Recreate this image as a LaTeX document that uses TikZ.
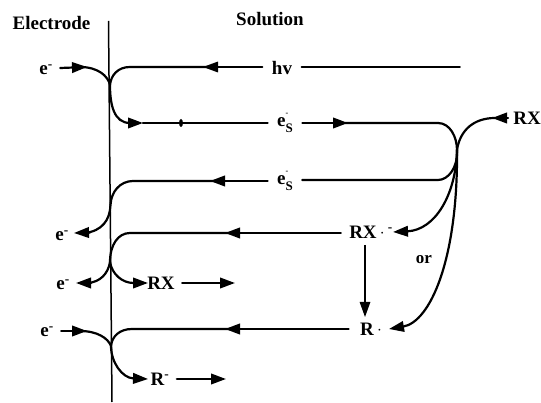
\documentclass[tikz,border=0pt]{standalone}
\usepackage{fontspec}
\setmainfont{Liberation Serif}
\usetikzlibrary{arrows.meta}
\newcommand{\esol}{e\rlap{\raisebox{11pt}{\fontsize{8}{8}\selectfont -}}\raisebox{-6pt}{\fontsize{13}{13}\selectfont S}}
\newcommand{\elec}{e\textsuperscript{-}}
\tikzset{
  lbl/.style={font=\bfseries\fontsize{19}{19}\selectfont,inner sep=1.5pt},
  flow/.style={line width=2.2pt,line cap=round},
  lightflow/.style={line width=1.7pt,line cap=round},
  atip/.style={-{Triangle[length=15pt,width=10.5pt]}},
}
\begin{document}
\begin{tikzpicture}[x=1pt,y=-1pt]
\useasboundingbox (0,0) rectangle (541,403);
% labels
\node[lbl] (electrode) at (51.5,23) {Electrode};
\node[lbl] (solution) at (270,19) {Solution};
\node[lbl,outer sep=6pt] (e1) at (46,70) {\elec};
\node[lbl,outer sep=8pt] (hv) at (282,68) {hv};
\node[lbl,outer sep=8pt] (es1) at (285,123) {\esol};
\node[lbl,outer sep=8pt] (es2) at (285,181) {\esol};
\node[lbl] (rxr) at (527,118) {RX};
\node[lbl] (e2) at (62,236) {\elec};
\node[lbl] (e3) at (63,285) {\elec};
\node[lbl,outer sep=6pt] (e4) at (47,332) {\elec};
\node[lbl,outer sep=6pt] (rx2) at (161,283) {RX};
\node[lbl,outer sep=6pt] (rm) at (160,379) {R\textsuperscript{-}};
\node[lbl,outer sep=7pt] (rxrad) at (371,232) {RX\,\raisebox{1pt}{$\cdot$}\,\textsuperscript{-}};
\node[lbl,outer sep=10pt] (rrad) at (371,329) {R\,\raisebox{1pt}{$\cdot$}};
\node[lbl,font=\bfseries\fontsize{17}{17}\selectfont] (or) at (424,260) {or};
% coordinates
\coordinate (etop) at (108.5,21);
\coordinate (ebot) at (112,402);
\coordinate (j1) at (110,85);
\coordinate (j2) at (110,262);
\coordinate (j3) at (111,346);
\coordinate (k) at (457,150);
\coordinate (hvend) at (460,67);
\coordinate (rx2end) at (235,283);
\coordinate (rmend) at (226,379);
% electrode
\draw[line width=1.5pt] (etop) -- (ebot);
% first row
\draw[flow,atip] (e1.east |- 0,68) -- (87,67);
\draw[flow] (80,67) .. controls (98,67) and (108,76) .. (j1);
\draw[lightflow,atip] (hv.west |- 0,67) -- (203,67);
\draw[flow] (210,67) -- (130,67) .. controls (118,67) and (111,75) .. (j1);
\draw[lightflow] (hv.east |- 0,67) -- (hvend);
% second row
\draw[flow] (j1) .. controls (110,105) and (114,123) .. (130,123);
\draw[flow,atip] (128,123) -- (143,123);
\draw[flow] (143,123) -- (es1.west |- 0,123);
\fill (181,123) ellipse (2 and 4);
\draw[flow,atip] (es1.east |- 0,123) -- (348,123);
\draw[flow] (345,123) -- (438,123) .. controls (450,123) and (457,137) .. (k);
\draw[flow] (k) .. controls (458,168) and (448,180) .. (438,180) -- (es2.east |- 0,180);
% third row
\draw[flow,atip] (es2.west |- 0,181) -- (210,181);
\draw[flow] (215,181) -- (133,181) .. controls (120,181) and (111,192) .. (110.5,205) .. controls (110,220) and (102,231) .. (85,233);
\draw[flow,atip] (90,232.5) -- (74,233);
% fourth row
\draw[flow,atip] (rxrad.west |- 0,233) -- (225,233);
\draw[flow] (230,233) -- (130,233) .. controls (118,233) and (110,245) .. (j2);
\draw[flow] (j2) .. controls (108,274) and (100,282) .. (88,283);
\draw[flow,atip] (91,283) -- (76,283);
\draw[flow,atip] (j2) .. controls (112,274) and (122,283) .. (148,283);
\draw[flow,atip] (rx2.east) -- (rx2end);
% radical
\draw[flow,atip] (k) .. controls (456,195) and (435,230) .. (393,232);
\draw[flow,atip] (k) .. controls (458,260) and (430,322) .. (389,329);
\draw[line width=1.3pt,atip] (365,245) -- (365,317);
% RX
\draw[flow] (k) .. controls (460,130) and (474,118) .. (495,118);
\draw[flow,atip] (508,118) -- (492,118);
% fifth row
\draw[flow,atip] (rrad.west |- 0,329) -- (225,329);
\draw[flow] (230,329) -- (132,329) .. controls (120,329) and (112,336) .. (j3);
\draw[flow,atip] (e4.east |- 0,331) -- (87,331);
\draw[flow] (80,331) .. controls (97,331) and (108,338) .. (j3);
\draw[flow,atip] (j3) .. controls (111,362) and (122,378) .. (148,379);
\draw[flow,atip] (rm.east |- 0,379) -- (rmend);
\end{tikzpicture}
\end{document}
